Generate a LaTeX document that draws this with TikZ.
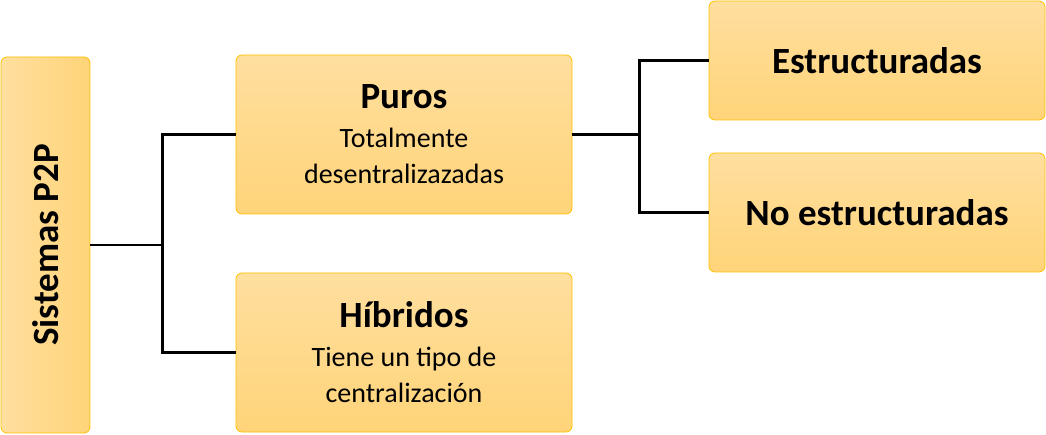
\documentclass[tikz,border=0pt]{standalone}
\usepackage{fontspec}
\setmainfont{Carlito}
\usetikzlibrary{positioning}

\definecolor{boxtop}{HTML}{FFDF9F}
\definecolor{boxbottom}{HTML}{FFD479}
\definecolor{boxline}{HTML}{FFC000}

\newcommand{\boxtitle}{\fontsize{37}{42}\selectfont\bfseries}
\newcommand{\boxsub}{\fontsize{28}{36}\selectfont}

\begin{document}
\begin{tikzpicture}[
    x=1pt, y=-1pt,
    % Stili
    card/.style={
        rectangle, draw=boxline, line width=0.8pt, rounded corners=6pt,
        align=center, inner sep=2pt, font=\boxsub
    },
    branch/.style={
        card, top color=boxtop, bottom color=boxbottom,
        minimum width=336pt
    },
    link/.style={draw=black, line width=2.3pt}
]
\useasboundingbox (0,0) rectangle (1046,435);

% Nodo principale
\node[card, left color=boxtop, right color=boxbottom,
      minimum width=89pt, minimum height=376pt] (sistemas) at (45.5,245)
    {\rotatebox{90}{\boxtitle Sistemas P2P}};

% Primo livello
\node[branch, minimum height=159pt] (puros) at (404,134.5)
    {{\boxtitle Puros}\\[3pt]Totalmente\\desentralizazadas};
\node[branch, minimum height=159pt] (hibridos) at (404,352.5)
    {{\boxtitle Híbridos}\\[3pt]Tiene un tipo de\\centralización};

% Secondo livello
\node[branch, minimum height=119pt, font=\boxtitle] (estructuradas) at (877,60.5)
    {Estructuradas};
\node[branch, minimum height=119pt, font=\boxtitle] (noestructuradas) at (877,212.5)
    {No estructuradas};

% Collegamenti
\draw[link] (puros.west) -- ++(-73,0) |- (sistemas.east);
\draw[link] (hibridos.west) -- ++(-73,0) |- (sistemas.east);
\draw[link] (estructuradas.west) -- ++(-69,0) |- (puros.east);
\draw[link] (noestructuradas.west) -- ++(-69,0) |- (puros.east);

\end{tikzpicture}
\end{document}
